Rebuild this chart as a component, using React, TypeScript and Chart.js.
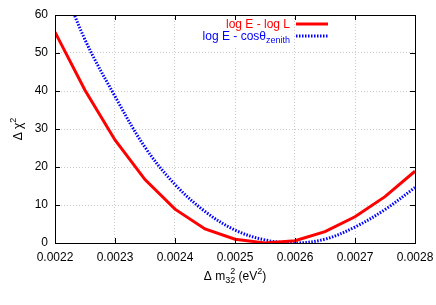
import React, { useEffect, useRef } from "react";
import { Chart, registerables } from "chart.js";

Chart.register(...registerables);

const massValues = [0.0022, 0.00225, 0.0023, 0.00235, 0.0024, 0.00245, 0.0025, 0.00255, 0.0026, 0.00265, 0.0027, 0.00275, 0.0028];
const logLValues = [55.5, 40.2, 27.1, 16.7, 8.9, 3.7, 1.0, 0.0, 0.6, 3.0, 6.9, 12.2, 18.9];
const cosZenithValues = [73.0, 53.5, 38.6, 25.2, 15.4, 8.3, 3.4, 0.8, 0.0, 1.0, 4.2, 8.8, 14.6];
const xTickValues = [0.0022, 0.0023, 0.0024, 0.0025, 0.0026, 0.0027, 0.0028];
const yTickValues = [0, 10, 20, 30, 40, 50, 60];
const legendLabels = ["log E - log L", "log E - cos\u03b8"];
const legendSub = ["", "zenith"];

const FONT = "Liberation Sans, Arial, Helvetica, sans-serif";

function zeroPad(s: any) {
  s.paddingLeft = 0;
  s.paddingRight = 0;
  s.paddingTop = 0;
  s.paddingBottom = 0;
}

const decorPlugin = {
  id: "decor",
  afterDatasetsDraw(chart: any) {
    const ctx = chart.ctx as CanvasRenderingContext2D;
    const a = chart.chartArea;
    ctx.save();
    const rightX = a.left + 235;
    const y1 = 28;
    const y2 = 40;
    ctx.fillStyle = "#fff";
    ctx.fillRect(rightX - 95, a.top + 1, 97, 30);
    ctx.font = `12px ${FONT}`;
    ctx.textBaseline = "alphabetic";
    ctx.textAlign = "left";
    ctx.fillStyle = "#ff0000";
    const w1 = ctx.measureText(legendLabels[0]).width;
    ctx.fillText(legendLabels[0], rightX - w1, y1);
    ctx.font = `9px ${FONT}`;
    const ws = ctx.measureText(legendSub[1]).width;
    ctx.font = `12px ${FONT}`;
    const w2 = ctx.measureText(legendLabels[1]).width;
    ctx.fillStyle = "#0000ff";
    ctx.fillText(legendLabels[1], rightX - ws - w2, y2);
    ctx.font = `9px ${FONT}`;
    ctx.fillText(legendSub[1], rightX - ws, y2 + 3);
    const sx0 = rightX + 6;
    const sx1 = rightX + 38;
    ctx.lineWidth = 3;
    ctx.strokeStyle = "#ff0000";
    ctx.setLineDash([]);
    ctx.beginPath();
    ctx.moveTo(sx0, y1 - 4);
    ctx.lineTo(sx1, y1 - 4);
    ctx.stroke();
    ctx.strokeStyle = "#0000ff";
    ctx.setLineDash([1.5, 1.5]);
    ctx.beginPath();
    ctx.moveTo(sx0, y2 - 4);
    ctx.lineTo(sx1, y2 - 4);
    ctx.stroke();
    ctx.restore();
  },
  afterDraw(chart: any) {
    const ctx = chart.ctx as CanvasRenderingContext2D;
    const a = chart.chartArea;
    const xs = chart.scales.x;
    const ys = chart.scales.y;
    ctx.save();
    ctx.strokeStyle = "#000";
    ctx.lineWidth = 1;
    ctx.setLineDash([]);
    ctx.strokeRect(Math.round(a.left) + 0.5, Math.round(a.top) + 0.5, Math.round(a.right - a.left), Math.round(a.bottom - a.top));
    const tl = 5;
    ctx.beginPath();
    xTickValues.forEach((v) => {
      const px = Math.round(xs.getPixelForValue(v)) + 0.5;
      ctx.moveTo(px, a.bottom);
      ctx.lineTo(px, a.bottom - tl);
      ctx.moveTo(px, a.top);
      ctx.lineTo(px, a.top + tl);
    });
    yTickValues.forEach((v) => {
      const py = Math.round(ys.getPixelForValue(v)) + 0.5;
      ctx.moveTo(a.left, py);
      ctx.lineTo(a.left + tl, py);
      ctx.moveTo(a.right, py);
      ctx.lineTo(a.right - tl, py);
    });
    ctx.stroke();

    ctx.fillStyle = "#000";
    ctx.textBaseline = "alphabetic";
    ctx.textAlign = "left";
    const parts: [string, number, number][] = [
      ["\u0394 m", 12, 0],
      ["32", 9, 3],
      ["2", 9, -6],
      [" (eV", 12, 0],
      ["2", 9, -6],
      [")", 12, 0],
    ];
    let total = 0;
    parts.forEach(([t, s], i) => {
      ctx.font = `${s}px ${FONT}`;
      const w = ctx.measureText(t).width;
      if (i !== 2) total += w;
    });
    const cx = (a.left + a.right) / 2;
    let x = cx - total / 2;
    const by = 280;
    let subStart = 0;
    parts.forEach(([t, s, dy], i) => {
      ctx.font = `${s}px ${FONT}`;
      const w = ctx.measureText(t).width;
      if (i === 1) subStart = x;
      if (i === 2) {
        ctx.fillText(t, subStart + w, by + dy);
        return;
      }
      ctx.fillText(t, x, by + dy);
      x += w;
    });

    ctx.save();
    const cy = (a.top + a.bottom) / 2;
    ctx.translate(22, cy);
    ctx.rotate(-Math.PI / 2);
    ctx.font = `12px ${FONT}`;
    const t1 = "\u0394 \u03c7";
    const wa = ctx.measureText(t1).width;
    ctx.font = `9px ${FONT}`;
    const wb = ctx.measureText("2").width;
    const start = -(wa + wb) / 2;
    ctx.font = `12px ${FONT}`;
    ctx.fillText(t1, start, 0);
    ctx.font = `9px ${FONT}`;
    ctx.fillText("2", start + wa, -6);
    ctx.restore();

    ctx.restore();
  },
};

export default function App() {
  const ref = useRef<HTMLCanvasElement | null>(null);
  useEffect(() => {
    document.body.style.margin = "0";
    const canvas = ref.current!;
    const chart = new Chart(canvas, {
      type: "line",
      data: {
        datasets: [
          {
            label: legendLabels[0],
            data: massValues.map((m, i) => ({ x: m, y: logLValues[i] })),
            borderColor: "#ff0000",
            borderWidth: 3,
            pointRadius: 0,
            tension: 0,
            fill: false,
          },
          {
            label: legendLabels[1] + legendSub[1],
            data: massValues.map((m, i) => ({ x: m, y: cosZenithValues[i] })),
            borderColor: "#0000ff",
            borderWidth: 3,
            borderDash: [1.5, 1.5],
            pointRadius: 0,
            tension: 0.35,
            fill: false,
          },
        ],
      },
      options: {
        animation: false,
        responsive: false,
        devicePixelRatio: 1,
        layout: { padding: { top: 15, right: 21, left: 0, bottom: 0 } },
        plugins: { legend: { display: false }, tooltip: { enabled: false } },
        scales: {
          x: {
            type: "linear",
            min: 0.0022,
            max: 0.0028,
            afterBuildTicks: (s: any) => {
              s.ticks = xTickValues.map((v) => ({ value: v }));
            },
            afterFit: (s: any) => {
              s.height = 62;
              zeroPad(s);
            },
            ticks: {
              autoSkip: false,
              maxRotation: 0,
              padding: 7,
              color: "#000",
              font: { family: FONT, size: 12 },
              callback: (v: any) => Number(v).toFixed(4),
            },
            grid: { color: "#cccccc", drawTicks: false, lineWidth: 1 },
            border: { display: false, dash: [1, 2] },
          },
          y: {
            type: "linear",
            min: 0,
            max: 60,
            afterBuildTicks: (s: any) => {
              s.ticks = yTickValues.map((v) => ({ value: v }));
            },
            afterFit: (s: any) => {
              s.width = 55;
              zeroPad(s);
            },
            ticks: {
              padding: 7,
              color: "#000",
              font: { family: FONT, size: 12 },
            },
            grid: { color: "#cccccc", drawTicks: false, lineWidth: 1 },
            border: { display: false, dash: [1, 2] },
          },
        },
      },
      plugins: [decorPlugin],
    });
    return () => chart.destroy();
  }, []);
  return (
    <div style={{ width: 436, height: 305 }}>
      <canvas ref={ref} width={436} height={305} style={{ display: "block" }} />
    </div>
  );
}
